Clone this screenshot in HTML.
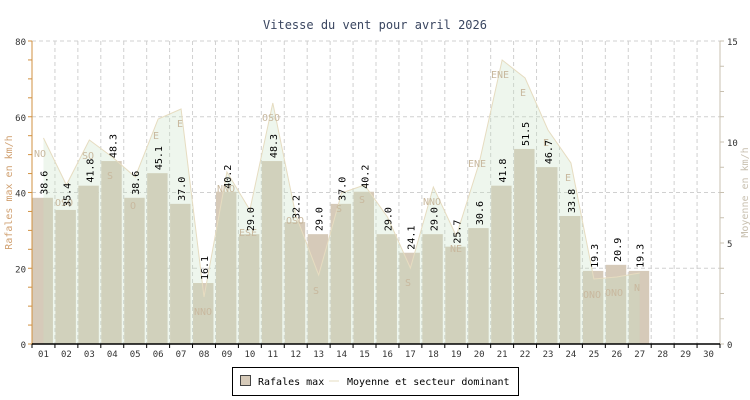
<!DOCTYPE html>
<html><head><meta charset="utf-8"><style>
html,body{margin:0;padding:0;background:#fff;width:750px;height:400px;overflow:hidden}
svg text{font-family:"DejaVu Sans Mono","Liberation Mono",monospace}
</style></head><body>
<svg id="s" width="750" height="400" xmlns="http://www.w3.org/2000/svg"></svg>
<script>
const s=document.getElementById('s');
let h='';
const L=32,R=720,T=41,B=344,W=(R-L)/30;
const yv=v=>B-(v/80)*(B-T);
h+=`<rect x="0" y="0" width="750" height="400" fill="#fff"/>`;
h+=`<text x="375" y="29" text-anchor="middle" font-size="12" fill="#3a4660">Vitesse du vent pour avril 2026</text>`;
for(let i=1;i<=30;i++){const x=L+i*W;h+=`<line x1="${x}" y1="${T}" x2="${x}" y2="${B}" stroke="#d0d0d0" stroke-dasharray="4,3"/>`;}
for(const v of [20,40,60,80]){const y=yv(v);h+=`<line x1="${L}" y1="${y}" x2="${R}" y2="${y}" stroke="#d0d0d0" stroke-dasharray="4,3"/>`;}
const vals=[38.6,35.4,41.8,48.3,38.6,45.1,37.0,16.1,40.2,29.0,48.3,32.2,29.0,37.0,40.2,29.0,24.1,29.0,25.7,30.6,41.8,51.5,46.7,33.8,19.3,20.9,19.3];
vals.forEach((v,i)=>{const x=L+i*W;h+=`<rect x="${x+0.5}" y="${yv(v)}" width="${W-2.5}" height="${B-yv(v)}" fill="#d6cab9"/>`;});
const ly=[138,185,140,157,177,119,109,297,172,210,103,215,275,193,185,217,268,187,236,163,60,78,130,163,279,277,273];
let pts=`${L+0.5*W},${B} `;ly.forEach((y,i)=>pts+=`${L+(i+0.5)*W},${y} `);pts+=`${L+26.5*W},${B}`;
h+=`<polygon points="${pts}" fill="rgba(200,225,195,0.3)"/>`;
let lp='';ly.forEach((y,i)=>lp+=`${L+(i+0.5)*W},${y} `);
h+=`<polyline points="${lp}" fill="none" stroke="#e6dcc0" stroke-width="1"/>`;
const dirs=[["NO",40,157],["OSO",64,206],["SO",88,159],["S",110,179],["O",133,209],["E",156,139],["E",180,127],["NNO",203,315],["NNO",226,192],["ESE",248,236],["OSO",271,121],["OSO",295,224],["S",316,294],["S",339,212],["S",362,203],["S",408,286],["NNO",432,205],["NE",456,252],["ENE",477,167],["ENE",500,78],["E",523,96],["E",546,146],["E",568,181],["ONO",592,298],["ONO",614,296],["N",637,291]];
dirs.forEach(d=>h+=`<text x="${d[1]}" y="${d[2]}" text-anchor="middle" font-size="10" fill="#c8b89e">${d[0]}</text>`);
vals.forEach((v,i)=>{const x=L+(i+0.5)*W,y=yv(v)-3;h+=`<text transform="translate(${x+4},${y}) rotate(-90)" font-size="10" fill="#000">${v.toFixed(1)}</text>`;});
h+=`<line x1="${L}" y1="${T}" x2="${L}" y2="${B}" stroke="#d09040"/>`;
for(let v=0;v<=80;v+=5){const y=yv(v);h+=`<line x1="${L-4}" y1="${y}" x2="${L}" y2="${y}" stroke="#d09040"/>`;}
for(const v of [0,20,40,60,80])h+=`<text x="${L-6}" y="${yv(v)+4}" text-anchor="end" font-size="9" fill="#333">${v}</text>`;
h+=`<line x1="${R}" y1="${T}" x2="${R}" y2="${B}" stroke="#c8c0b0"/>`;
for(let k=0;k<=12;k++){const y=B-k*(B-T)/12;h+=`<line x1="${R}" y1="${y}" x2="${R+4}" y2="${y}" stroke="#c8c0b0"/>`;}
[[0,B],[5,B-(B-T)/3],[10,B-2*(B-T)/3],[15,T]].forEach(a=>h+=`<text x="${R+7}" y="${a[1]+4}" font-size="9" fill="#333">${a[0]}</text>`);
h+=`<line x1="${L}" y1="${B}" x2="${R}" y2="${B}" stroke="#000" stroke-width="1.5"/>`;
for(let i=0;i<=30;i++){const x=L+i*W;h+=`<line x1="${x}" y1="${B}" x2="${x}" y2="${B+4}" stroke="#000"/>`;}
for(let i=1;i<=30;i++)h+=`<text x="${L+(i-0.5)*W}" y="${B+13}" text-anchor="middle" font-size="9" fill="#333">${String(i).padStart(2,'0')}</text>`;
h+=`<text transform="translate(12,${(T+B)/2}) rotate(-90)" text-anchor="middle" font-size="10" fill="#d0a070">Rafales max en km/h</text>`;
h+=`<text transform="translate(748,${(T+B)/2}) rotate(-90)" text-anchor="middle" font-size="10" fill="#c8c0b0">Moyenne en km/h</text>`;
h+=`<rect x="232.5" y="367.5" width="286" height="28" fill="#fff" stroke="#000"/>`;
h+=`<rect x="240.5" y="375.5" width="10" height="10" fill="#d6cab9" stroke="#444"/>`;
h+=`<text x="258" y="385" font-size="10" fill="#000">Rafales max</text>`;
h+=`<line x1="329" y1="381" x2="339" y2="381" stroke="#e6dcc0"/>`;
h+=`<text x="347" y="385" font-size="10" fill="#000">Moyenne et secteur dominant</text>`;
s.innerHTML=h;
</script>
</body></html>
